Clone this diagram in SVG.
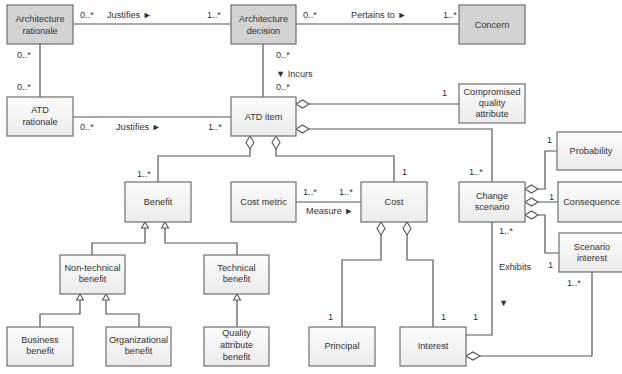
<svg xmlns="http://www.w3.org/2000/svg" width="622" height="374" viewBox="0 0 622 374">
<defs>
<linearGradient id="g" x1="0" y1="0" x2="0" y2="1">
<stop offset="0" stop-color="#fbfbfb"/>
<stop offset="1" stop-color="#ececec"/>
</linearGradient>
<style>
.b{fill:url(#g);stroke:#6f6f6f;stroke-width:1.2}
.gr{fill:#d3d3d3;stroke:#6f6f6f;stroke-width:1.2}
text{font-family:"Liberation Sans",Arial,sans-serif;font-size:9.2px;fill:#333}
.c{text-anchor:middle}
.l{fill:none;stroke:#555;stroke-width:1.2}
.d{fill:#fff;stroke:#555;stroke-width:1.1}
</style>
</defs>
<rect width="622" height="374" fill="#fff"/>
<g id="connectors">
<path class="l" d="M73,24H231M296,24H459M40,44V97M73,117H231M263,44V97"/>
<path class="l" d="M309,104H459M309,129H492V182"/>
<path class="l" d="M250,149V156H158V182M276,149V156H394V182"/>
<path class="l" d="M296,202H361"/>
<path class="l" d="M145,228V243H92V255M165,228V243H237V255"/>
<path class="l" d="M80,300V314H40V327M106,300V314H139V327M237,300V327"/>
<path class="l" d="M381,235V260H342V327M407,235V260H433V327"/>
<path class="l" d="M466,335H492V222M480,356H592V272"/>
<path class="l" d="M538,189H545V151H557M538,202H558M538,215H545V253H559"/>
<polygon class="d" points="296,104 302.5,100 309,104 302.5,108"/>
<polygon class="d" points="296,129 302.5,125 309,129 302.5,133"/>
<polygon class="d" points="250,136 254,142.5 250,149 246,142.5"/>
<polygon class="d" points="276,136 280,142.5 276,149 272,142.5"/>
<polygon class="d" points="381,222 385,228.5 381,235 377,228.5"/>
<polygon class="d" points="407,222 411,228.5 407,235 403,228.5"/>
<polygon class="d" points="466,356 473,352 480,356 473,360"/>
<polygon class="d" points="525,189 531.5,185 538,189 531.5,193"/>
<polygon class="d" points="525,202 531.5,198 538,202 531.5,206"/>
<polygon class="d" points="525,215 531.5,211 538,215 531.5,219"/>
<polygon class="d" points="145,222 141.5,228 148.5,228"/>
<polygon class="d" points="165,222 161.5,228 168.5,228"/>
<polygon class="d" points="80,294 76.5,300 83.5,300"/>
<polygon class="d" points="106,294 102.5,300 109.5,300"/>
<polygon class="d" points="237,294 233.5,300 240.5,300"/>
<text x="80" y="18">0..*</text>
<text x="107" y="18">Justifies ►</text>
<text x="207" y="18">1..*</text>
<text x="303" y="18">0..*</text>
<text x="351" y="18">Pertains to ►</text>
<text x="443" y="18">1..*</text>
<text x="17" y="58">0..*</text>
<text x="17" y="90">0..*</text>
<text x="80" y="130">0..*</text>
<text x="116" y="130">Justifies ►</text>
<text x="208" y="130">1..*</text>
<text x="276" y="58">0..*</text>
<text x="276" y="77">▼ Incurs</text>
<text x="276" y="90">0..*</text>
<text x="442" y="96">1</text>
<text x="137" y="177">1..*</text>
<text x="402" y="175">1</text>
<text x="303" y="195">1..*</text>
<text x="339" y="195">1..*</text>
<text x="306" y="214">Measure ►</text>
<text x="469" y="175">1..*</text>
<text x="547" y="143">1</text>
<text x="549" y="200">1</text>
<text x="499" y="234">1..*</text>
<text x="499" y="270">Exhibits</text>
<text x="548" y="268">1</text>
<text x="499" y="306">▼</text>
<text x="567" y="286">1..*</text>
<text x="328" y="320">1</text>
<text x="441" y="320">1</text>
<text x="473" y="320">1</text>
</g>
<g id="architecture-rationale"><rect class="gr" x="7" y="5" width="66" height="39"/><text class="c" x="40" y="22">Architecture</text><text class="c" x="40" y="34">rationale</text></g>
<g id="architecture-decision"><rect class="gr" x="231" y="5" width="65" height="39"/><text class="c" x="263.5" y="22">Architecture</text><text class="c" x="263.5" y="34">decision</text></g>
<g id="concern"><rect class="gr" x="459" y="5" width="66" height="39"/><text class="c" x="492" y="28">Concern</text></g>
<g id="atd-rationale"><rect class="b" x="7" y="97" width="66" height="39"/><text class="c" x="40" y="113">ATD</text><text class="c" x="40" y="125">rationale</text></g>
<g id="atd-item"><rect class="b" x="231" y="97" width="65" height="39"/><text class="c" x="263.5" y="120">ATD item</text></g>
<g id="compromised-quality-attribute"><rect class="b" x="459" y="84" width="66" height="39"/><text class="c" x="492" y="95">Compromised</text><text class="c" x="492" y="106">quality</text><text class="c" x="492" y="117">attribute</text></g>
<g id="benefit"><rect class="b" x="125" y="182" width="66" height="40"/><text class="c" x="158" y="205">Benefit</text></g>
<g id="cost-metric"><rect class="b" x="231" y="182" width="65" height="40"/><text class="c" x="263.5" y="205">Cost metric</text></g>
<g id="cost"><rect class="b" x="361" y="182" width="66" height="40"/><text class="c" x="394" y="205">Cost</text></g>
<g id="change-scenario"><rect class="b" x="459" y="182" width="66" height="40"/><text class="c" x="492" y="199">Change</text><text class="c" x="492" y="210">scenario</text></g>
<g id="probability"><rect class="b" x="557" y="132" width="68" height="38"/><text class="c" x="591" y="154">Probability</text></g>
<g id="consequence"><rect class="b" x="558" y="182" width="67" height="40"/><text class="c" x="591.5" y="205">Consequence</text></g>
<g id="scenario-interest"><rect class="b" x="559" y="233" width="66" height="39"/><text class="c" x="592" y="250">Scenario</text><text class="c" x="592" y="261">interest</text></g>
<g id="non-technical-benefit"><rect class="b" x="60" y="255" width="65" height="39"/><text class="c" x="92.5" y="271">Non-technical</text><text class="c" x="92.5" y="282">benefit</text></g>
<g id="technical-benefit"><rect class="b" x="204" y="255" width="65" height="39"/><text class="c" x="236.5" y="271">Technical</text><text class="c" x="236.5" y="282">benefit</text></g>
<g id="business-benefit"><rect class="b" x="7" y="327" width="66" height="39"/><text class="c" x="40" y="343">Business</text><text class="c" x="40" y="354">benefit</text></g>
<g id="organizational-benefit"><rect class="b" x="106" y="327" width="65" height="39"/><text class="c" x="138.5" y="343">Organizational</text><text class="c" x="138.5" y="354">benefit</text></g>
<g id="quality-attribute-benefit"><rect class="b" x="204" y="327" width="65" height="39"/><text class="c" x="236.5" y="336">Quality</text><text class="c" x="236.5" y="348">attribute</text><text class="c" x="236.5" y="360">benefit</text></g>
<g id="principal"><rect class="b" x="309" y="327" width="66" height="39"/><text class="c" x="342" y="349">Principal</text></g>
<g id="interest"><rect class="b" x="400" y="327" width="66" height="39"/><text class="c" x="433" y="349">Interest</text></g>
</svg>
